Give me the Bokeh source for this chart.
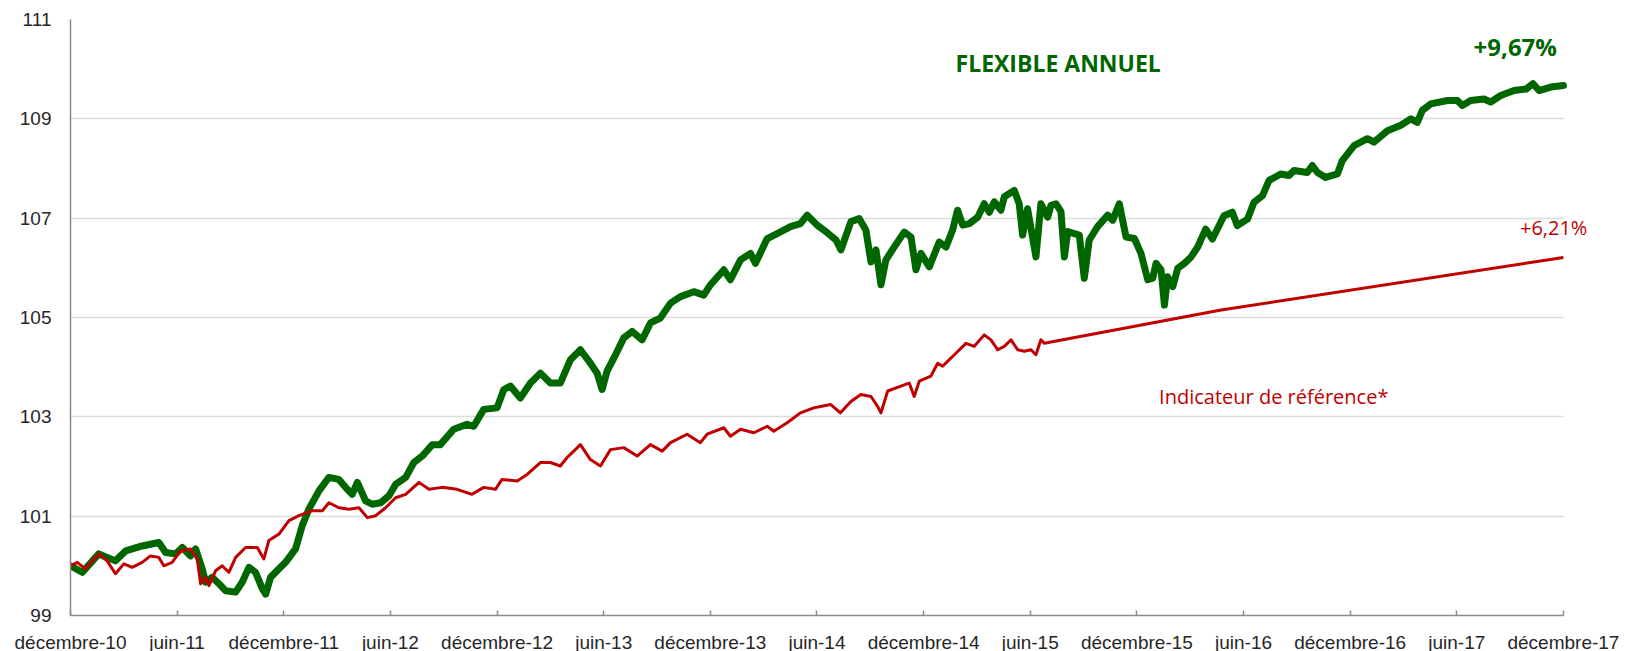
from bokeh.plotting import figure
from bokeh.models import FixedTicker, Label
from bokeh.embed import file_html
from bokeh.resources import INLINE

# ---- data (x = months since December 2010) ----
tick_months = [0, 6, 12, 18, 24, 30, 36, 42, 48, 54, 60, 66, 72, 78, 84]
tick_labels = ["décembre-10", "juin-11", "décembre-11", "juin-12", "décembre-12",
               "juin-13", "décembre-13", "juin-14", "décembre-14", "juin-15",
               "décembre-15", "juin-16", "décembre-16", "juin-17", "décembre-17"]
y_ticks = [99, 101, 103, 105, 107, 109, 111]

fund_months = [0.00, 0.66, 1.59, 2.53, 3.10, 4.03, 4.97, 5.35, 5.91, 6.29, 6.75, 7.04,
               7.41, 7.60, 7.97, 8.35, 8.72, 9.29, 9.66, 10.04, 10.41, 10.79, 10.98, 11.26,
               11.73, 12.10, 12.66, 13.04, 13.41, 13.98, 14.54, 15.10, 15.57, 15.85, 16.14,
               16.60, 16.98, 17.45, 17.92, 18.29, 18.86, 19.32, 19.79, 20.36, 20.81, 21.56,
               22.31, 22.69, 23.25, 24.00, 24.38, 24.75, 25.31, 25.88, 26.44, 27.00, 27.56,
               28.13, 28.69, 29.25, 29.63, 29.91, 30.19, 30.57, 31.13, 31.60, 32.16, 32.63,
               33.19, 33.76, 34.32, 35.07, 35.63, 36.01, 36.76, 37.13, 37.70, 38.26, 38.54,
               39.20, 39.76, 40.51, 41.07, 41.45, 42.01, 42.60, 43.07, 43.35, 43.91, 44.38,
               44.75, 45.04, 45.32, 45.60, 45.88, 46.35, 46.91, 47.29, 47.57, 47.85, 48.32,
               48.88, 49.26, 49.63, 49.91, 50.20, 50.57, 51.04, 51.41, 51.70, 51.98, 52.35,
               52.54, 53.10, 53.38, 53.57, 53.85, 54.32, 54.60, 54.98, 55.17, 55.45, 55.73,
               55.92, 56.11, 56.48, 56.76, 57.04, 57.32, 57.79, 58.36, 58.64, 59.01, 59.39,
               59.86, 60.23, 60.61, 60.89, 61.08, 61.36, 61.55, 61.73, 62.02, 62.30, 62.67,
               63.05, 63.42, 63.87, 64.25, 64.90, 65.37, 65.65, 66.22, 66.59, 67.06, 67.44,
               68.09, 68.56, 68.84, 69.59, 69.87, 70.16, 70.62, 71.28, 71.56, 72.22, 72.97,
               73.34, 74.10, 74.85, 75.41, 75.78, 76.06, 76.53, 77.47, 78.03, 78.31, 78.78,
               79.53, 79.91, 80.47, 81.22, 81.91, 82.28, 82.63, 83.29, 84.00]
fund_values = [100.00, 99.87, 100.24, 100.10, 100.30, 100.40, 100.47, 100.27, 100.24, 100.37,
               100.20, 100.34, 99.94, 99.67, 99.77, 99.64, 99.50, 99.47, 99.67, 99.97, 99.87,
               99.54, 99.43, 99.77, 99.94, 100.07, 100.34, 100.81, 101.14, 101.51, 101.78,
               101.74, 101.54, 101.44, 101.68, 101.31, 101.24, 101.27, 101.41, 101.64, 101.78,
               102.08, 102.21, 102.44, 102.44, 102.75, 102.85, 102.81, 103.15, 103.18, 103.55,
               103.62, 103.38, 103.68, 103.88, 103.68, 103.68, 104.15, 104.35, 104.08, 103.88,
               103.55, 103.92, 104.18, 104.59, 104.72, 104.55, 104.89, 104.99, 105.29, 105.42,
               105.52, 105.45, 105.66, 105.96, 105.76, 106.16, 106.29, 106.09, 106.59, 106.69,
               106.83, 106.89, 107.06, 106.86, 106.70, 106.56, 106.36, 106.93, 106.99, 106.76,
               106.12, 106.36, 105.66, 106.16, 106.42, 106.72, 106.62, 105.96, 106.29, 106.02,
               106.52, 106.42, 106.76, 107.16, 106.86, 106.89, 107.02, 107.29, 107.12, 107.33,
               107.16, 107.43, 107.56, 107.29, 106.66, 107.19, 106.22, 107.29, 107.02, 107.26,
               107.29, 107.13, 106.22, 106.73, 106.69, 106.66, 105.79, 106.56, 106.83, 107.06,
               106.96, 107.29, 106.62, 106.59, 106.29, 105.76, 105.79, 106.09, 105.96, 105.25,
               105.82, 105.62, 105.99, 106.09, 106.22, 106.42, 106.78, 106.58, 107.05, 107.12,
               106.85, 106.98, 107.32, 107.45, 107.76, 107.89, 107.86, 107.96, 107.92, 108.06,
               107.92, 107.82, 107.89, 108.16, 108.46, 108.60, 108.53, 108.76, 108.87, 109.00,
               108.93, 109.17, 109.30, 109.37, 109.37, 109.27, 109.37, 109.40, 109.34, 109.47,
               109.57, 109.60, 109.71, 109.57, 109.64, 109.67]

bench_months = [0.00, 0.38, 0.84, 1.59, 2.06, 2.53, 3.00, 3.47, 4.03, 4.50, 4.97, 5.25, 5.72,
                6.19, 6.75, 7.13, 7.32, 7.60, 7.79, 8.16, 8.54, 8.91, 9.29, 9.85, 10.51, 10.88,
                11.16, 11.73, 12.29, 12.85, 13.60, 14.17, 14.54, 15.10, 15.67, 16.23, 16.70,
                17.17, 17.73, 18.29, 18.86, 19.61, 20.17, 20.92, 21.75, 22.59, 23.25, 23.91,
                24.28, 25.13, 25.69, 26.44, 27.00, 27.56, 27.94, 28.69, 29.25, 29.82, 30.38,
                31.13, 31.88, 32.63, 33.29, 33.76, 34.69, 35.44, 35.82, 36.76, 37.13, 37.70,
                38.45, 39.20, 39.57, 40.32, 41.07, 41.82, 42.76, 43.32, 43.91, 44.47, 45.04,
                45.41, 45.60, 45.98, 46.72, 47.19, 47.47, 47.76, 48.41, 48.79, 49.07, 49.73,
                50.38, 50.85, 51.41, 51.79, 52.17, 52.54, 52.92, 53.29, 53.67, 54.04, 54.32,
                54.60, 54.79, 64.74, 84.00]
bench_values = [100.00, 100.07, 99.94, 100.24, 100.10, 99.84, 100.04, 99.97, 100.07, 100.20,
                100.17, 100.00, 100.07, 100.30, 100.34, 100.14, 99.64, 99.77, 99.60, 99.90,
                100.00, 99.87, 100.17, 100.37, 100.37, 100.14, 100.51, 100.64, 100.91, 101.01,
                101.11, 101.11, 101.27, 101.17, 101.14, 101.17, 100.97, 101.01, 101.17, 101.37,
                101.44, 101.68, 101.54, 101.58, 101.54, 101.44, 101.58, 101.54, 101.74, 101.71,
                101.84, 102.08, 102.08, 102.01, 102.18, 102.44, 102.14, 102.01, 102.34, 102.38,
                102.21, 102.44, 102.31, 102.48, 102.65, 102.48, 102.65, 102.78, 102.61, 102.75,
                102.68, 102.81, 102.71, 102.88, 103.08, 103.18, 103.25, 103.08, 103.31, 103.45,
                103.41, 103.21, 103.08, 103.52, 103.62, 103.68, 103.41, 103.72, 103.82, 104.08,
                104.02, 104.25, 104.48, 104.42, 104.65, 104.55, 104.35, 104.42, 104.55, 104.35,
                104.32, 104.35, 104.25, 104.55, 104.48, 105.15, 106.21]

GREEN = "#006600"
RED = "#C00000"

X_END = 84.0
X_VIEW_END = 85.86  # a little room right of the last date so "+6,21%" is not clipped

p = figure(width=1626, height=659, output_backend="svg", toolbar_location=None,
           x_range=(0, X_VIEW_END), y_range=(99, 111),
           min_border_left=70, min_border_right=30, min_border_top=19, min_border_bottom=44)
p.outline_line_color = None
p.background_fill_color = "white"
p.border_fill_color = "white"

p.line(fund_months, fund_values, line_width=7, color=GREEN, line_join="round", line_cap="round")
p.line(bench_months, bench_values, line_width=3, color=RED, line_join="round")

# axes
p.xaxis.ticker = FixedTicker(ticks=tick_months)
p.xaxis.major_label_overrides = {m: s for m, s in zip(tick_months, tick_labels)}
p.xaxis.bounds = (0, X_END)
p.yaxis.ticker = FixedTicker(ticks=y_ticks)
for ax in (p.xaxis[0], p.yaxis[0]):
    ax.axis_line_color = "#8a8a8a"
    ax.axis_line_width = 1.5
    ax.minor_tick_line_color = None
    ax.major_label_text_font = "Liberation Sans"
    ax.major_label_text_font_size = "19px"
    ax.major_label_text_color = "#262626"
p.xaxis.major_tick_in = 5
p.xaxis.major_tick_out = 0
p.xaxis.major_tick_line_color = "#8a8a8a"
p.xaxis.major_tick_line_width = 1.5
p.xaxis.major_label_standoff = 16
p.yaxis.major_tick_line_color = None
p.yaxis.major_tick_out = 0
p.yaxis.major_tick_in = 0
p.yaxis.major_label_standoff = 19

p.xgrid.grid_line_color = None
p.ygrid.grid_line_color = "#dcdcdc"
p.ygrid.grid_line_width = 1.5
if hasattr(p.ygrid[0], "cross_bounds"):
    p.ygrid[0].cross_bounds = (0, X_END)

# annotations
p.add_layout(Label(x=55.57, y=110.12, text="FLEXIBLE ANNUEL", text_font="Open Sans",
                   text_font_style="bold", text_font_size="23px", text_color=GREEN,
                   text_align="center", text_baseline="middle"))
p.add_layout(Label(x=81.29, y=110.45, text="+9,67%", text_font="Open Sans",
                   text_font_style="bold", text_font_size="24px", text_color=GREEN,
                   text_align="center", text_baseline="middle"))
p.add_layout(Label(x=83.45, y=106.82, text="+6,21%", text_font="Open Sans",
                   text_font_size="20px", text_color=RED,
                   text_align="center", text_baseline="middle"))
p.add_layout(Label(x=67.7, y=103.40, text="Indicateur de référence*", text_font="Open Sans",
                   text_font_size="20px", text_color=RED,
                   text_align="center", text_baseline="middle"))

open("out.html", "w").write(file_html(p, INLINE))
